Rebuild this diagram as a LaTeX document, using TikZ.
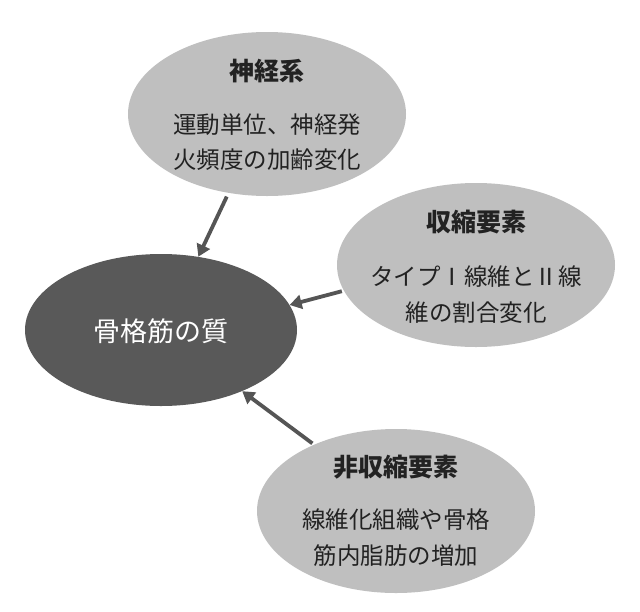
\documentclass[tikz,border=0pt]{standalone}
\usepackage{fontspec}
\newfontfamily\jp{Noto Sans CJK JP}
\usetikzlibrary{shapes.geometric,arrows.meta}
\definecolor{lightfill}{HTML}{BFBFBF}
\definecolor{darkfill}{HTML}{595959}
\definecolor{arrowgray}{HTML}{555555}
\definecolor{txt}{HTML}{222222}
\tikzset{
  lightell/.style={ellipse,fill=lightfill,draw=none,inner sep=0pt,minimum width=278pt,minimum height=164pt},
  darkell/.style={ellipse,fill=darkfill,draw=none,inner sep=0pt,minimum width=272pt,minimum height=152pt},
  titletxt/.style={font=\jp\bfseries\fontsize{25pt}{28pt}\selectfont,text=txt,inner sep=0pt},
  bodytxt/.style={font=\jp\fontsize{23.5pt}{28pt}\selectfont,text=txt,inner sep=0pt},
  centertxt/.style={font=\jp\fontsize{27pt}{30pt}\selectfont,text=white,inner sep=0pt},
  conn/.style={draw=arrowgray,line width=3.8pt,-{Triangle[width=14pt,length=12pt]}}
}
\begin{document}
\begin{tikzpicture}[x=1pt,y=-1pt]
\useasboundingbox[fill=white] (0,0) rectangle (640,611);
% ellipses
\node[lightell] (nerve) at (267,114) {};
\node[lightell] (contr) at (476,265) {};
\node[lightell] (noncon) at (396,511) {};
\node[darkell] (qual) at (161,330) {};
% texts
\node[titletxt] (t1) at (267,71) {神経系};
\node[bodytxt] (b1a) at (267,125) {運動単位、神経発};
\node[bodytxt] (b1b) at (267,160) {火頻度の加齢変化};
\node[titletxt] (t2) at (476,222) {収縮要素};
\node[bodytxt] (b2a) at (476,277) {タイプ\makebox[1em]{Ⅰ}線維とⅡ線};
\node[bodytxt] (b2b) at (476,313) {維の割合変化};
\node[titletxt] (t3) at (396,467) {非収縮要素};
\node[bodytxt] (b3a) at (396,520) {線維化組織や骨格};
\node[bodytxt] (b3b) at (396,556) {筋内脂肪の増加};
\node[centertxt] (tc) at (161,331) {骨格筋の質};
% arrows
\draw[conn,shorten <=4pt] (nerve.244.8) -- (qual.63.1);
\draw[conn,shorten <=2pt] (contr.191.8) -- (qual.11.6);
\draw[conn,shorten <=2pt] (noncon.141.9) -- (qual.-37.5);
\end{tikzpicture}
\end{document}
